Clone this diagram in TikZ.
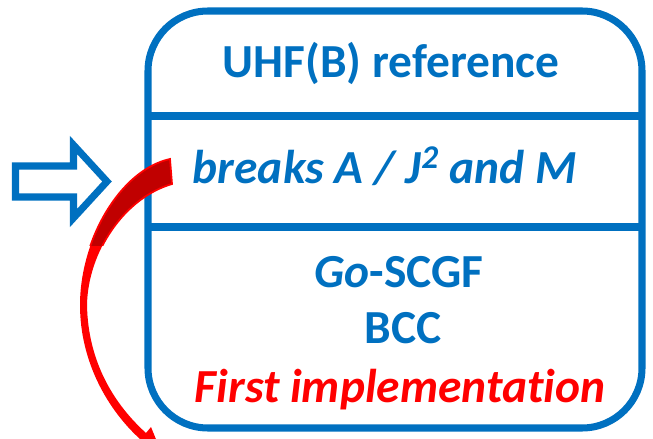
\documentclass[tikz,border=0pt]{standalone}
\usepackage{fontspec}
\setmainfont{Carlito}[Ligatures=NoCommon]
\usetikzlibrary{positioning}
\definecolor{boxblue}{HTML}{0070C0}
\definecolor{alertred}{HTML}{FF0000}
\definecolor{darkred}{HTML}{C00000}
\newcommand{\bendshape}{(170,159) .. controls (120,170) and (80,240) .. (80,305)
  .. controls (80,362) and (108,410) .. (140,439) -- (135,445) -- (162,454) -- (151,427) -- (146,433)
  .. controls (114,404) and (88,362) .. (87,305) .. controls (88,252) and (124,198) .. (172,184) -- cycle}

\begin{document}
\begin{tikzpicture}[x=0.02cm, y=-0.02cm,
  frame/.style={draw=boxblue, line width=4pt, rounded corners=1.2cm},
  rowline/.style={draw=boxblue, line width=4pt},
  rowtext/.style={anchor=base, inner sep=0pt, text=boxblue, font=\fontsize{27}{32}\selectfont\bfseries},
  hollow/.style={draw=boxblue, line width=4pt, fill=white, line join=miter}
]
\useasboundingbox (0,0) rectangle (653,439);

% the table
\draw[frame] (148,11) rectangle (642,428);
\draw[rowline] (148,116) -- (642,116);
\draw[rowline] (148,227) -- (642,227);

\node[rowtext] (title) at (391,78) {UHF(B) reference};
\node[rowtext, font=\fontsize{27}{32}\selectfont\bfseries\itshape] (breaks) at (385,184) {breaks A / J\textsuperscript{2} and M};
\node[rowtext] (scgf) at (399,287) {\textit{Go}-SCGF};
\node[rowtext] (bcc) at (403,343) {BCC};
\node[rowtext, text=alertred, font=\fontsize{27}{32}\selectfont\bfseries\itshape] (first) at (400,402) {First implementation};

% pointer
\draw[hollow] (15.5,166) -- (73.5,166) -- (73.5,145) -- (107,181.5) -- (73.5,218) -- (73.5,197) -- (15.5,197) -- cycle;

% bent arrow
\begin{scope}
  \clip (0,0) rectangle (653,439);
  \fill[alertred] \bendshape;
  \begin{scope}
    \clip (0,150) rectangle (200,245);
    \fill[darkred, draw=alertred, line width=1pt] \bendshape;
  \end{scope}
\end{scope}
\end{tikzpicture}
\end{document}
